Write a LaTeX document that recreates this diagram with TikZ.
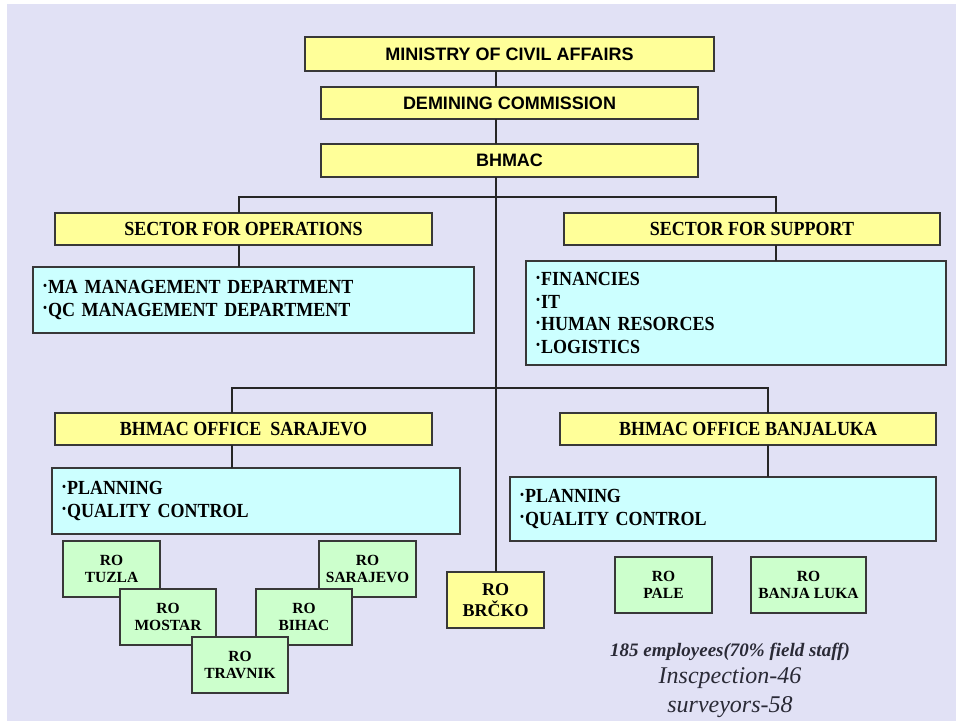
\documentclass[tikz,border=0pt]{standalone}
\usepackage{fontspec}
\setmainfont{Liberation Serif}
\setsansfont{Liberation Sans}
\newfontfamily\narrowserif[FakeStretch=0.9]{Liberation Serif}
\definecolor{bgcol}{HTML}{E1E1F5}
\definecolor{boxyellow}{HTML}{FFFF99}
\definecolor{boxcyan}{HTML}{CCFFFF}
\definecolor{boxgreen}{HTML}{CCFFCC}
\definecolor{edgecol}{HTML}{383838}
\definecolor{linecol}{HTML}{262626}
\definecolor{notecol}{HTML}{2A2A36}
\newcommand{\bul}{\raisebox{1.5pt}{·}}
\tikzset{
  box/.style={draw=edgecol,line width=1.5pt,rectangle,inner sep=0pt,outer sep=0pt},
  boxsize/.style 2 args={minimum width=#1pt,minimum height=#2pt},
  headbox/.style={box,fill=boxyellow,font=\sffamily\bfseries\fontsize{18}{20}\selectfont},
  secbox/.style={box,fill=boxyellow,font=\narrowserif\bfseries\fontsize{20}{22}\selectfont},
  listbox/.style={box,fill=boxcyan,align=left,inner xsep=9pt,font=\narrowserif\bfseries\fontsize{20}{22.5}\selectfont},
  robox/.style={box,fill=boxgreen,align=center,font=\bfseries\fontsize{15.5}{17.5}\selectfont},
  conn/.style={draw=linecol,line width=1.4pt}
}

\begin{document}
\begin{tikzpicture}[x=1pt,y=-1pt]
  \useasboundingbox (0,0) rectangle (956,721);
  \fill[bgcol] (7,4) rectangle (956,721);

  % joints of the tree
  \coordinate (spine) at (496,0);
  \coordinate (opsjoin) at (239,197);
  \coordinate (supjoin) at (776,197);
  \coordinate (sarjoin) at (232,388);
  \coordinate (bljoin) at (768,388);

  % top of the tree
  \node[headbox,boxsize={409}{34}] (min) at (509.5,54) {MINISTRY OF CIVIL AFFAIRS};
  \node[headbox,boxsize={377}{32}] (dem) at (509.5,103) {DEMINING COMMISSION};
  \node[headbox,boxsize={377}{33}] (bhmac) at (509.5,160.5) {BHMAC};

  % sectors
  \node[secbox,boxsize={377}{32}] (secops) at (243.5,229) {SECTOR FOR OPERATIONS};
  \node[secbox,boxsize={376}{32}] (secsup) at (752,229) {SECTOR FOR SUPPORT};
  \node[listbox,boxsize={441}{66},text width=423pt] (opslist) at (253.5,300)
    {\bul MA MANAGEMENT DEPARTMENT\\\bul QC MANAGEMENT DEPARTMENT};
  \node[listbox,boxsize={420}{104},text width=402pt] (suplist) at (736,313)
    {\bul FINANCIES\\\bul IT\\\bul HUMAN RESORCES\\\bul LOGISTICS};

  % offices
  \node[secbox,boxsize={377}{32}] (offsar) at (243.5,429) {BHMAC OFFICE\ \ SARAJEVO};
  \node[secbox,boxsize={376}{32}] (offbl) at (748,429) {BHMAC OFFICE BANJALUKA};
  \node[listbox,boxsize={408}{66},text width=390pt] (sarlist) at (256,501)
    {\bul PLANNING\\\bul QUALITY CONTROL};
  \node[listbox,boxsize={426}{64},text width=408pt] (bllist) at (723,509)
    {\bul PLANNING\\\bul QUALITY CONTROL};

  % regional offices
  \node[robox,boxsize={97}{56}] (rotuzla) at (111.5,569) {RO\\TUZLA};
  \node[robox,boxsize={97}{56}] (rosar) at (367.5,569) {RO\\SARAJEVO};
  \node[robox,boxsize={96}{56}] (romostar) at (168,617) {RO\\MOSTAR};
  \node[robox,boxsize={96}{56}] (robihac) at (304,617) {RO\\BIHAC};
  \node[robox,boxsize={96}{56}] (rotravnik) at (240,665) {RO\\TRAVNIK};
  \node[robox,fill=boxyellow,font=\bfseries\fontsize{18}{21}\selectfont,boxsize={97}{56}] (robrcko) at (495.5,600) {RO\\BRČKO};
  \node[robox,boxsize={97}{56}] (ropale) at (663.5,585) {RO\\PALE};
  \node[robox,boxsize={115}{56}] (robl) at (808.5,585) {RO\\BANJA LUKA};

  % staff figures
  \node[anchor=base,text=notecol,font=\bfseries\itshape\fontsize{19}{21}\selectfont] (note1) at (730,656) {185 employees(70\% field staff)};
  \node[anchor=base,text=notecol,font=\itshape\fontsize{24}{26}\selectfont] (note2) at (730,683) {Inscpection-46};
  \node[anchor=base,text=notecol,font=\itshape\fontsize{24}{26}\selectfont] (note3) at (730,712) {surveyors-58};

  % connectors
  \draw[conn] (min.south -| spine) -- (dem.north -| spine);
  \draw[conn] (dem.south -| spine) -- (bhmac.north -| spine);
  \draw[conn] (bhmac.south -| spine) -- (robrcko.north -| spine);
  \draw[conn] (secops.north -| opsjoin) -- (opsjoin) -- (supjoin) -- (secsup.north -| supjoin);
  \draw[conn] (secops.south -| opsjoin) -- (opslist.north -| opsjoin);
  \draw[conn] (secsup.south -| supjoin) -- (suplist.north -| supjoin);
  \draw[conn] (offsar.north -| sarjoin) -- (sarjoin) -- (bljoin) -- (offbl.north -| bljoin);
  \draw[conn] (offsar.south -| sarjoin) -- (sarlist.north -| sarjoin);
  \draw[conn] (offbl.south -| bljoin) -- (bllist.north -| bljoin);
\end{tikzpicture}
\end{document}
